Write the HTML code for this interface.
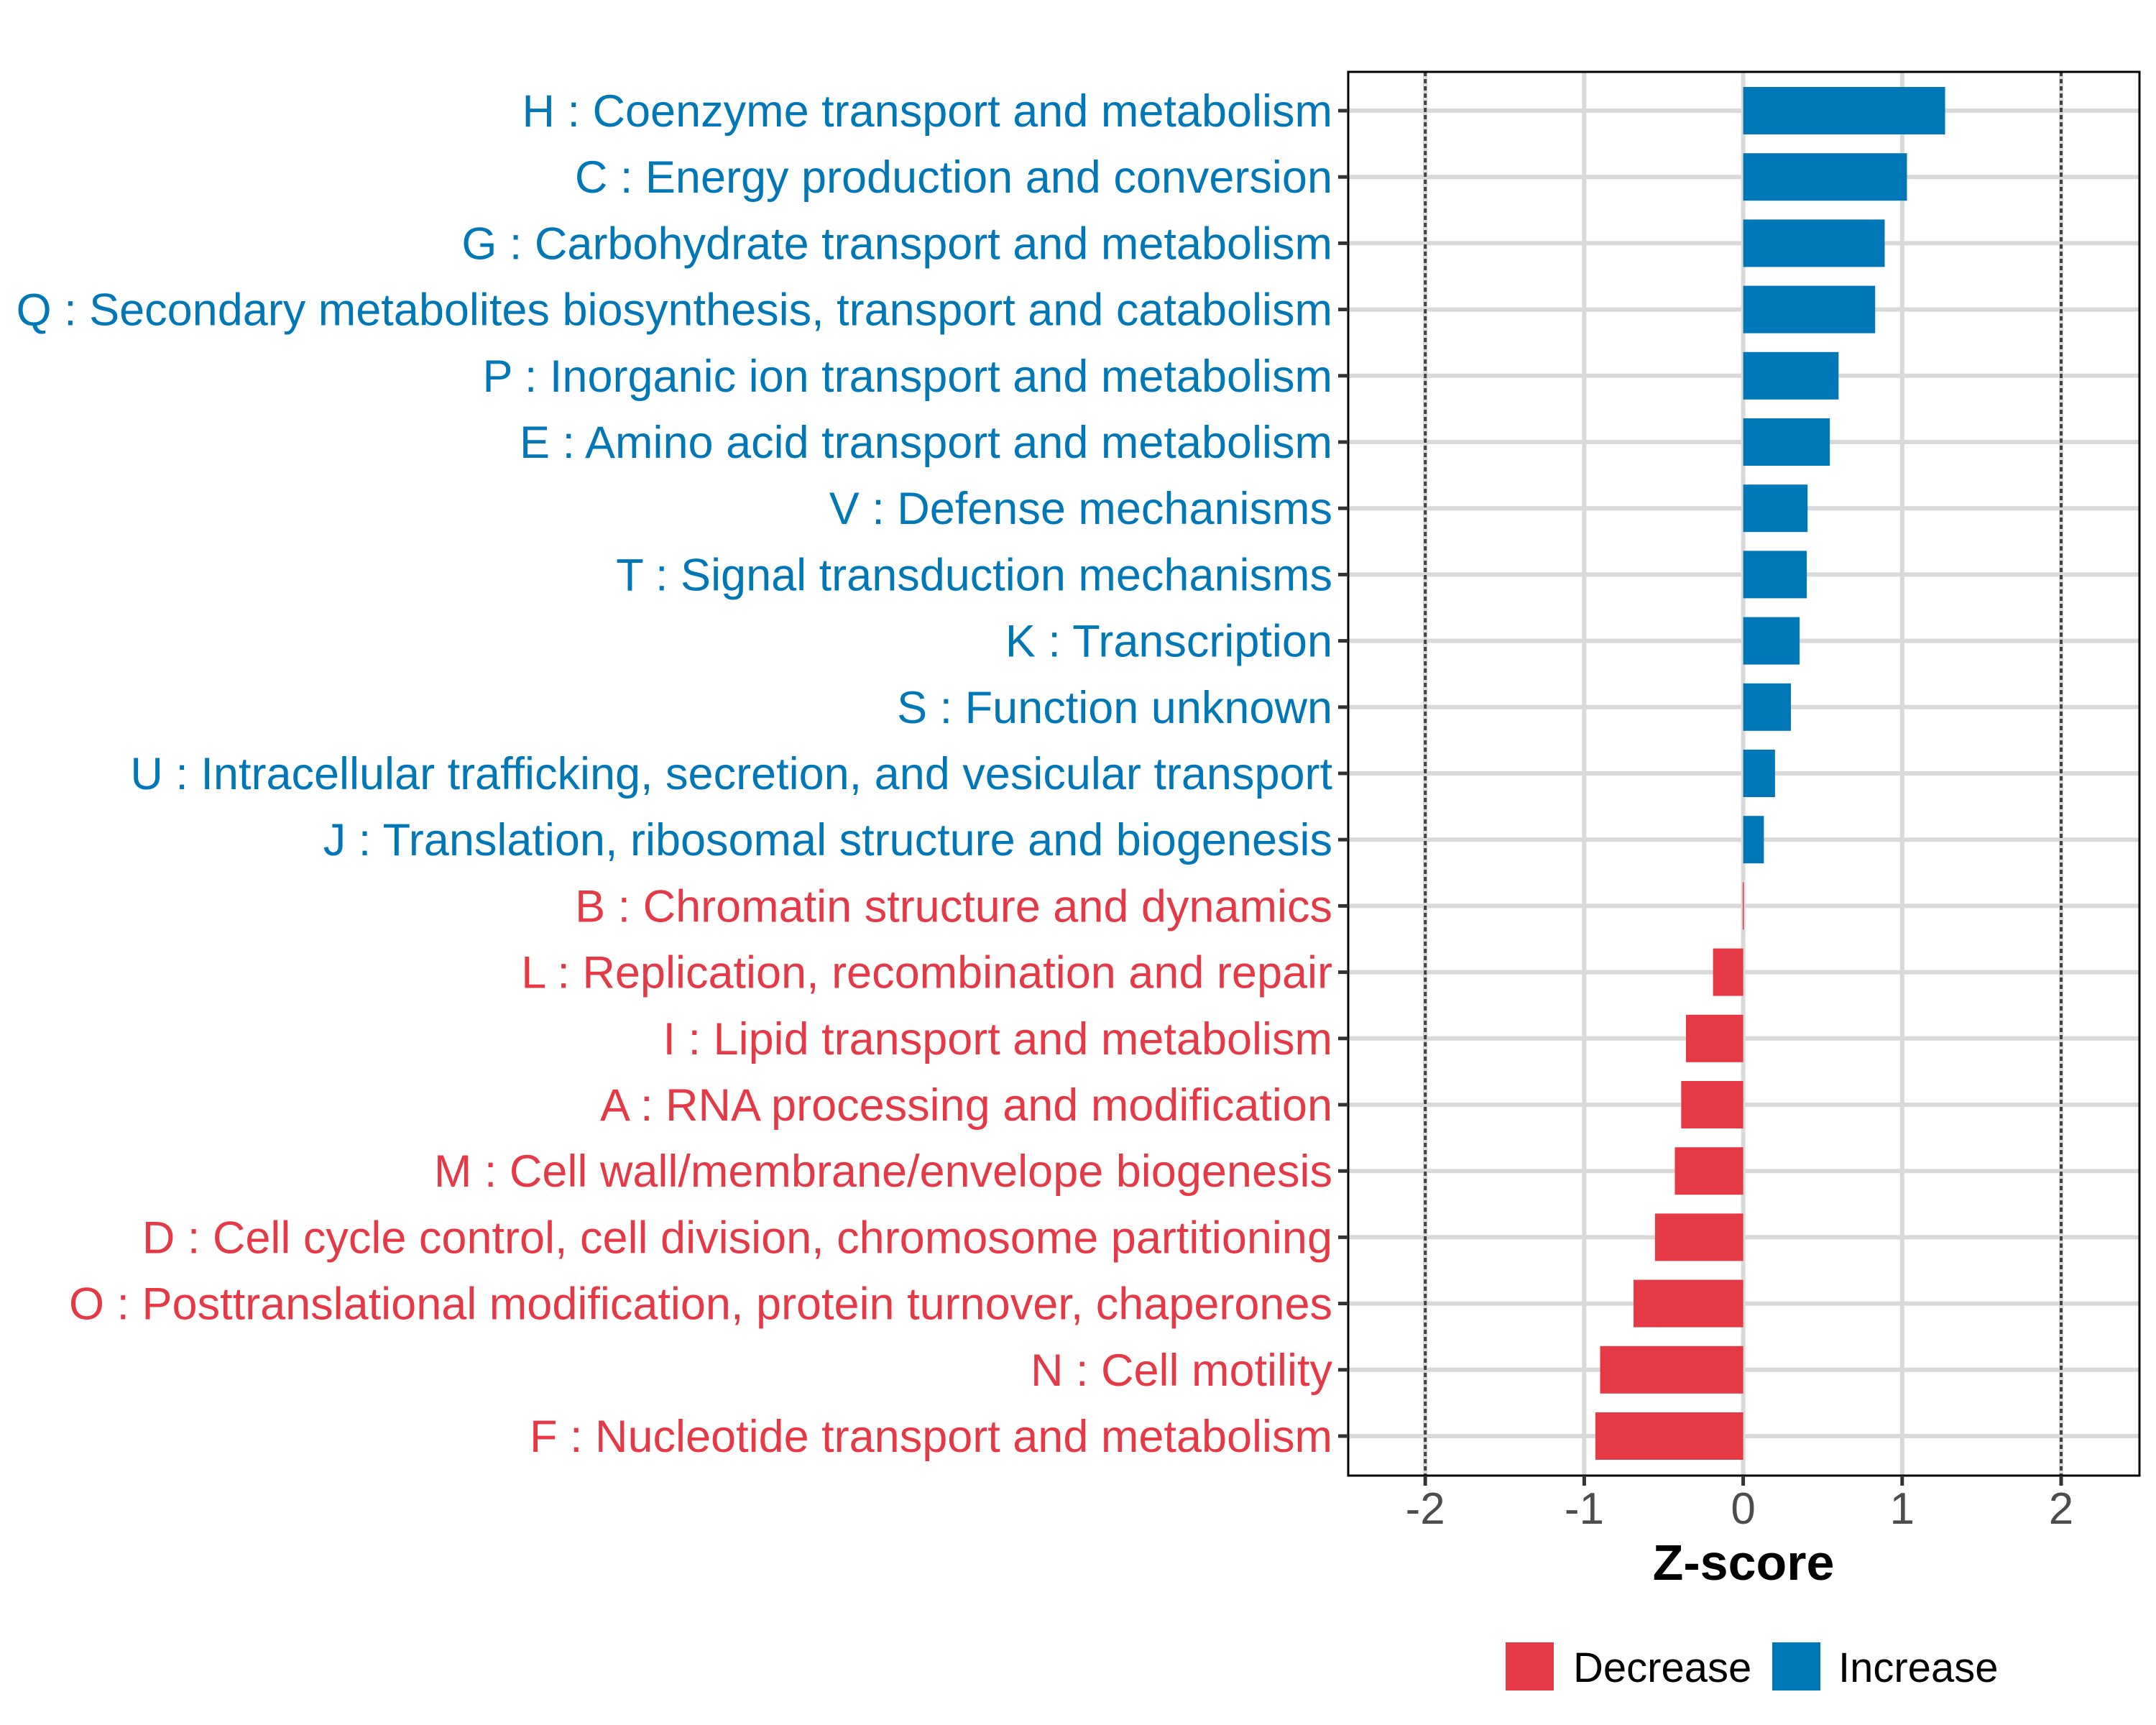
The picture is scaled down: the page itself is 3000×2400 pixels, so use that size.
<!DOCTYPE html>
<html><head><meta charset="utf-8"><style>html,body{margin:0;padding:0;background:#fff}svg{display:block}</style></head>
<body>
<svg id="chart" width="3000" height="2400" viewBox="0 0 3000 2400" xmlns="http://www.w3.org/2000/svg" font-family="Liberation Sans, Arial, sans-serif">
<rect x="0" y="0" width="3000" height="2400" fill="#fff"/>
<g id="grid"></g>
<g id="bars"></g>
<g id="frame"></g>
<g id="ylabels"></g>
<g id="xaxis"></g>
<text x="2426" y="2198" text-anchor="middle" font-size="70" font-weight="bold" fill="#000">Z-score</text>
<g>
<rect x="2095" y="2285" width="67" height="67" fill="#e63946"/>
<text x="2189" y="2340" font-size="58" fill="#000">Decrease</text>
<rect x="2466" y="2285" width="67" height="67" fill="#0077b6"/>
<text x="2558" y="2340" font-size="58" fill="#000">Increase</text>
</g>
</svg>
<script>
const categories = ["H : Coenzyme transport and metabolism","C : Energy production and conversion","G : Carbohydrate transport and metabolism","Q : Secondary metabolites biosynthesis, transport and catabolism","P : Inorganic ion transport and metabolism","E : Amino acid transport and metabolism","V : Defense mechanisms","T : Signal transduction mechanisms","K : Transcription","S : Function unknown","U : Intracellular trafficking, secretion, and vesicular transport","J : Translation, ribosomal structure and biogenesis","B : Chromatin structure and dynamics","L : Replication, recombination and repair","I : Lipid transport and metabolism","A : RNA processing and modification","M : Cell wall/membrane/envelope biogenesis","D : Cell cycle control, cell division, chromosome partitioning","O : Posttranslational modification, protein turnover, chaperones","N : Cell motility","F : Nucleotide transport and metabolism"];
const zscores = [1.27,1.03,0.89,0.83,0.60,0.545,0.405,0.40,0.355,0.30,0.20,0.13,-0.003,-0.19,-0.36,-0.39,-0.43,-0.555,-0.69,-0.90,-0.93];
const xTicks = [-2,-1,0,1,2];
const xTickLabels = ["-2","-1","0","1","2"];
const thresholds = [-2,2];

const NS="http://www.w3.org/2000/svg";
const PL=1876, PR=2977, PT=100, PB=2053;
const x0=2425.6, unit=221.2;
function xs(v){return x0+v*unit;}
function ys(i){return 154+i*92.2;}
function mk(tag,attrs,parent){const e=document.createElementNS(NS,tag);for(const k in attrs)e.setAttribute(k,attrs[k]);parent.appendChild(e);return e;}
const grid=document.getElementById('grid'),bars=document.getElementById('bars'),frame=document.getElementById('frame'),yl=document.getElementById('ylabels'),xa=document.getElementById('xaxis');
xTicks.forEach(t=>{const l=mk('line',{x1:xs(t),x2:xs(t),y1:PT,y2:PB,stroke:'#d9d9d9','stroke-width':6},grid);

});
categories.forEach((c,i)=>{const l=mk('line',{x1:PL,x2:PR,y1:ys(i),y2:ys(i),stroke:'#d9d9d9','stroke-width':6},grid);

});
thresholds.forEach(t=>{const l=mk('line',{x1:xs(t),x2:xs(t),y1:PT,y2:PB,stroke:'#444','stroke-width':4,'stroke-dasharray':'6,4'},grid);

});
zscores.forEach((v,i)=>{const col=v>=0?'#0077b6':'#e63946';const h=66;
const a=Math.min(xs(0),xs(v)),w=Math.max(Math.abs(xs(v)-xs(0)),1.5);
const r=mk('rect',{x:a,y:ys(i)-h/2,width:w,height:h,fill:col},bars);


const t=mk('text',{x:1854,y:ys(i)+22,'text-anchor':'end','font-size':63,fill:col},yl);t.textContent=categories[i];


const tk=mk('line',{x1:1862,x2:PL,y1:ys(i),y2:ys(i),stroke:'#333','stroke-width':5},yl);

});
const fr=mk('rect',{x:PL,y:PT,width:PR-PL,height:PB-PT,fill:'none',stroke:'#000','stroke-width':3},frame);


xTicks.forEach((t,i)=>{const tk=mk('line',{x1:xs(t),x2:xs(t),y1:PB,y2:PB+14,stroke:'#333','stroke-width':5},xa);


const tx=mk('text',{x:xs(t),y:2120,'text-anchor':'middle','font-size':62,fill:'#4d4d4d'},xa);tx.textContent=xTickLabels[i];

});
</script>
</body></html>
